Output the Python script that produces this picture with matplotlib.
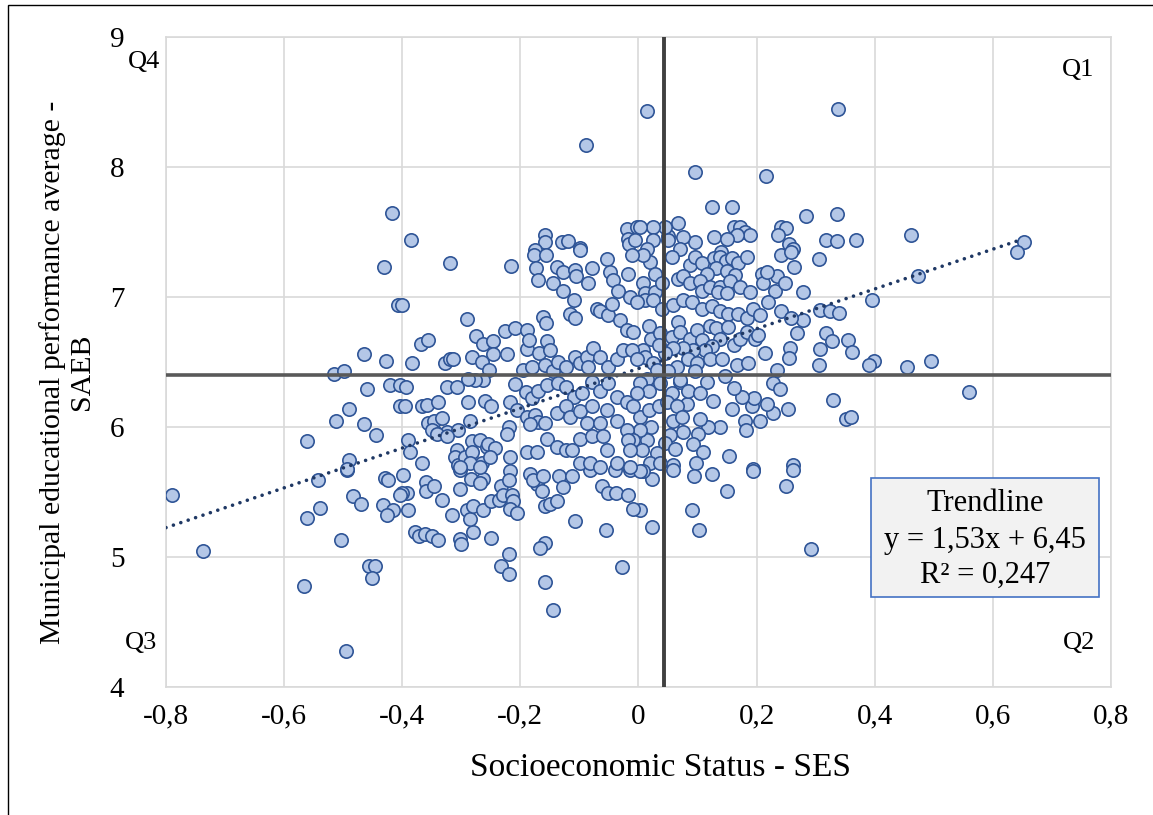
import numpy as np
import matplotlib
matplotlib.use("Agg")
import matplotlib.pyplot as plt
from matplotlib.patches import Rectangle
from matplotlib.ticker import FuncFormatter

plt.rcParams['font.family'] = ['Liberation Serif', 'DejaVu Serif']

# (SES, SAEB) por município
pts_top = [
    (-0.089, 8.17), (-0.385, 7.44), (-0.158, 7.48), (-0.158, 7.42), (-0.130, 7.42), (-0.120, 7.43),
    (-0.099, 7.38), (-0.176, 7.36), (-0.020, 7.52), (-0.002, 7.54), (-0.018, 7.45), (-0.016, 7.41),
    (-0.006, 7.44), (0.014, 8.43), (0.337, 8.45), (0.095, 7.96), (0.216, 7.93), (0.125, 7.69),
    (0.159, 7.69), (0.283, 7.62), (0.336, 7.64), (0.369, 7.44), (0.317, 7.44), (0.336, 7.43),
    (0.242, 7.54), (0.249, 7.53), (0.237, 7.48), (0.254, 7.41), (0.261, 7.37), (0.161, 7.54),
    (0.172, 7.54), (0.180, 7.50), (0.189, 7.48), (0.166, 7.48), (0.128, 7.46), (0.149, 7.45),
    (0.095, 7.42), (0.067, 7.57), (0.075, 7.46), (0.050, 7.47), (0.050, 7.44), (0.045, 7.54),
    (0.024, 7.54), (0.024, 7.44), (0.003, 7.54), (0.014, 7.37), (0.070, 7.37), (0.139, 7.35),
    (0.461, 7.48), (0.652, 7.42), (0.640, 7.35), (0.473, 7.16),
]

pts_right = [
    (0.454, 6.46), (0.495, 6.51), (0.559, 6.27), (0.398, 6.51), (0.391, 6.48),
    (0.306, 7.29), (0.242, 7.32), (0.259, 7.35), (0.263, 7.23), (0.278, 7.04), (0.396, 6.98),
    (0.307, 6.90), (0.324, 6.89), (0.340, 6.88), (0.242, 6.89), (0.279, 6.82), (0.268, 6.72),
    (0.259, 6.84), (0.317, 6.72), (0.327, 6.66), (0.307, 6.60), (0.354, 6.67), (0.362, 6.58),
    (0.257, 6.61), (0.254, 6.53), (0.306, 6.48), (0.234, 6.44), (0.228, 6.34), (0.240, 6.29),
    (0.253, 6.14), (0.228, 6.11), (0.217, 6.18), (0.330, 6.21), (0.352, 6.06), (0.359, 6.08),
    (0.261, 5.71), (0.194, 5.68), (0.154, 5.78), (0.180, 6.05), (0.182, 5.98), (0.205, 6.05),
    (0.158, 6.14), (0.192, 6.16), (0.196, 6.22), (0.176, 6.23), (0.162, 6.30), (0.126, 6.20),
    (0.138, 6.00), (0.118, 6.00), (0.104, 6.06), (0.100, 5.95), (0.093, 5.87), (0.110, 5.81),
    (0.097, 5.72), (0.076, 5.96), (0.059, 6.05), (0.053, 5.94), (0.045, 5.88), (0.062, 5.83),
    (0.058, 5.71), (0.022, 6.00), (0.014, 5.90), (0.031, 5.80), (0.019, 5.72), (0.036, 5.72),
    (0.003, 6.08), (0.003, 5.98), (0.006, 5.82),
]

pts_core_q1 = [
    (0.020, 7.27), (0.028, 7.18), (0.008, 7.32), (0.056, 7.31), (0.087, 7.25), (0.096, 7.31),
    (0.107, 7.26), (0.127, 7.30), (0.138, 7.31), (0.148, 7.28), (0.158, 7.30), (0.169, 7.26),
    (0.184, 7.31), (0.132, 7.22), (0.116, 7.18), (0.149, 7.20), (0.163, 7.17),
    (0.008, 7.11), (0.011, 7.03), (0.028, 7.04), (0.039, 7.11), (0.067, 7.14), (0.076, 7.16),
    (0.087, 7.11), (0.104, 7.12), (0.107, 7.05), (0.121, 7.08), (0.138, 7.08), (0.155, 7.12),
    (0.172, 7.08), (0.189, 7.04), (0.135, 7.04), (0.149, 7.03), (0.209, 7.18), (0.211, 7.11),
    (0.231, 7.05), (0.234, 7.16), (0.248, 7.11), (0.217, 7.19),
    (0.011, 6.98), (0.025, 6.98), (0.039, 6.91), (0.059, 6.94), (0.076, 6.98), (0.090, 6.96),
    (0.107, 6.91), (0.124, 6.93), (0.138, 6.89), (0.152, 6.87), (0.169, 6.87), (0.183, 6.84),
    (0.194, 6.91), (0.206, 6.86), (0.220, 6.96),
    (0.017, 6.78), (0.022, 6.68), (0.008, 6.59), (0.036, 6.72), (0.056, 6.69), (0.067, 6.81),
    (0.070, 6.73), (0.087, 6.68), (0.099, 6.75), (0.107, 6.67), (0.121, 6.78), (0.132, 6.76),
    (0.152, 6.77), (0.161, 6.63), (0.172, 6.68), (0.183, 6.73), (0.197, 6.68), (0.203, 6.71),
    (0.214, 6.57), (0.138, 6.68), (0.124, 6.62), (0.113, 6.59), (0.093, 6.59), (0.076, 6.61),
    (0.059, 6.61), (0.045, 6.57), (0.034, 6.63),
    (0.011, 6.54), (0.025, 6.49), (0.065, 6.46), (0.084, 6.52), (0.099, 6.49), (0.121, 6.52),
    (0.141, 6.52), (0.166, 6.48), (0.186, 6.49), (0.147, 6.39), (0.116, 6.35), (0.096, 6.43),
    (0.070, 6.35), (0.050, 6.43), (0.031, 6.44), (0.014, 6.37),
    (0.003, 6.34), (0.017, 6.28), (0.036, 6.34), (0.056, 6.26), (0.070, 6.36), (0.082, 6.18),
    (0.084, 6.28), (0.104, 6.26), (0.017, 6.13), (0.034, 6.16), (0.048, 6.19), (0.065, 6.16),
    (0.073, 6.08),
]

pts_low = [
    (0.023, 5.60), (0.008, 5.66), (0.059, 5.67), (0.094, 5.62), (0.124, 5.64), (0.150, 5.51),
    (0.194, 5.66), (0.250, 5.55), (0.261, 5.67), (0.091, 5.36), (0.103, 5.21), (0.023, 5.23),
    (0.003, 5.36), (0.292, 5.06),
    (-0.398, 5.63), (-0.392, 5.49), (-0.401, 5.49), (-0.390, 5.36), (-0.359, 5.58), (-0.360, 5.51),
    (-0.347, 5.55), (-0.332, 5.44), (-0.315, 5.32), (-0.378, 5.19), (-0.371, 5.16), (-0.361, 5.18),
    (-0.350, 5.16), (-0.339, 5.13), (-0.302, 5.14), (-0.300, 5.10), (-0.280, 5.19), (-0.250, 5.15),
    (-0.303, 5.67), (-0.302, 5.52), (-0.284, 5.60), (-0.263, 5.60), (-0.268, 5.57), (-0.291, 5.36),
    (-0.286, 5.29), (-0.280, 5.39), (-0.263, 5.36), (-0.249, 5.43), (-0.237, 5.44), (-0.232, 5.55),
    (-0.218, 5.66), (-0.220, 5.59), (-0.229, 5.48), (-0.215, 5.48), (-0.212, 5.43), (-0.218, 5.37),
    (-0.206, 5.34), (-0.220, 5.02), (-0.232, 4.93), (-0.219, 4.87),
    (-0.184, 5.64), (-0.172, 5.56), (-0.164, 5.51), (-0.178, 5.59), (-0.161, 5.62), (-0.134, 5.62),
    (-0.127, 5.54), (-0.113, 5.62), (-0.158, 5.39), (-0.149, 5.41), (-0.138, 5.43), (-0.107, 5.28),
    (-0.158, 5.11), (-0.166, 5.07), (-0.158, 4.81), (-0.145, 4.59),
    (-0.061, 5.55), (-0.051, 5.49), (-0.038, 5.49), (-0.018, 5.48), (-0.009, 5.37), (-0.055, 5.21),
    (-0.028, 4.92), (-0.082, 5.67), (-0.040, 5.67), (-0.014, 5.67), (0.003, 5.66),
    (-0.789, 5.48), (-0.738, 5.05), (-0.543, 5.59), (-0.494, 5.67), (-0.484, 5.47), (-0.470, 5.41),
    (-0.539, 5.38), (-0.562, 5.30), (-0.503, 5.13), (-0.429, 5.61), (-0.424, 5.59), (-0.404, 5.48),
    (-0.433, 5.40), (-0.415, 5.36), (-0.426, 5.32), (-0.457, 4.93), (-0.446, 4.93), (-0.452, 4.84),
    (-0.566, 4.78), (-0.495, 4.28),
]

pts_left = [
    (-0.418, 7.65), (-0.431, 7.23), (-0.407, 6.94), (-0.464, 6.56), (-0.428, 6.51), (-0.516, 6.41),
    (-0.498, 6.43), (-0.459, 6.29), (-0.421, 6.32), (-0.404, 6.32), (-0.490, 6.14), (-0.512, 6.05),
    (-0.465, 6.02), (-0.445, 5.94), (-0.562, 5.89), (-0.490, 5.75), (-0.494, 5.68), (-0.404, 6.16),
    (-0.320, 7.26), (-0.216, 7.24), (-0.177, 7.32), (-0.157, 7.32),
    (-0.174, 7.22), (-0.170, 7.13), (-0.145, 7.11), (-0.128, 7.05), (-0.138, 7.23), (-0.127, 7.19),
    (-0.107, 7.21), (-0.105, 7.16), (-0.085, 7.11), (-0.078, 7.22), (-0.053, 7.29), (-0.048, 7.19),
    (-0.043, 7.13), (-0.034, 7.05), (-0.017, 7.18), (-0.011, 7.32), (-0.099, 7.36),
    (-0.401, 6.94), (-0.290, 6.83), (-0.110, 6.98),
    (-0.162, 6.85), (-0.157, 6.80), (-0.116, 6.87), (-0.107, 6.84), (-0.071, 6.91), (-0.065, 6.89),
    (-0.051, 6.86), (-0.045, 6.95), (-0.031, 6.82), (-0.020, 6.75), (-0.009, 6.73), (-0.014, 7.00),
    (-0.003, 6.96), (-0.368, 6.64), (-0.357, 6.67), (-0.384, 6.49), (-0.328, 6.49), (-0.319, 6.52),
    (-0.314, 6.52),
    (-0.275, 6.70), (-0.263, 6.64), (-0.247, 6.66), (-0.246, 6.56), (-0.223, 6.56), (-0.226, 6.74),
    (-0.209, 6.76), (-0.189, 6.75), (-0.189, 6.60), (-0.185, 6.67), (-0.168, 6.57), (-0.155, 6.66),
    (-0.149, 6.59),
    (-0.282, 6.54), (-0.265, 6.50), (-0.253, 6.44), (-0.263, 6.36), (-0.277, 6.36), (-0.288, 6.37),
    (-0.325, 6.31), (-0.307, 6.31), (-0.394, 6.31),
    (-0.195, 6.44), (-0.181, 6.46), (-0.158, 6.48), (-0.144, 6.43), (-0.136, 6.50), (-0.122, 6.46),
    (-0.107, 6.54), (-0.099, 6.49), (-0.088, 6.54), (-0.085, 6.46), (-0.077, 6.61), (-0.065, 6.54),
    (-0.051, 6.46), (-0.037, 6.52), (-0.026, 6.59), (-0.011, 6.59), (-0.003, 6.52),
]

pts_mid = [
    (-0.395, 6.16), (-0.367, 6.16), (-0.358, 6.17), (-0.339, 6.19), (-0.356, 6.03), (-0.347, 6.05),
    (-0.333, 6.07), (-0.325, 5.96), (-0.345, 5.96), (-0.305, 5.98), (-0.288, 6.19), (-0.260, 6.20),
    (-0.249, 6.16), (-0.285, 6.05), (-0.209, 6.33), (-0.190, 6.27), (-0.181, 6.22), (-0.170, 6.28),
    (-0.155, 6.32), (-0.136, 6.34), (-0.122, 6.31), (-0.110, 6.23), (-0.096, 6.26), (-0.079, 6.35),
    (-0.065, 6.28), (-0.051, 6.34), (-0.037, 6.23), (-0.020, 6.19), (-0.009, 6.16), (-0.003, 6.26),
    (-0.218, 6.19), (-0.220, 6.00), (-0.223, 5.95), (-0.206, 6.13), (-0.189, 6.08), (-0.175, 6.09),
    (-0.170, 6.04), (-0.184, 6.02), (-0.158, 6.03), (-0.138, 6.11), (-0.122, 6.16), (-0.116, 6.08),
    (-0.099, 6.12), (-0.079, 6.16), (-0.088, 6.03), (-0.065, 6.03), (-0.054, 6.13), (-0.037, 6.05),
    (-0.020, 5.98), (-0.009, 5.90), (-0.155, 5.91), (-0.138, 5.85), (-0.122, 5.82), (-0.113, 5.82),
    (-0.099, 5.91), (-0.079, 5.93), (-0.060, 5.93), (-0.054, 5.82), (-0.037, 5.72), (-0.017, 5.90),
    (-0.014, 5.82),
    (-0.390, 5.90), (-0.387, 5.81), (-0.367, 5.72), (-0.350, 5.98), (-0.342, 5.95), (-0.325, 5.93),
    (-0.308, 5.82), (-0.311, 5.77), (-0.305, 5.71), (-0.294, 5.77), (-0.282, 5.89), (-0.282, 5.81),
    (-0.268, 5.90), (-0.265, 5.72), (-0.257, 5.85), (-0.254, 5.87), (-0.243, 5.84), (-0.285, 5.72),
    (-0.302, 5.69), (-0.268, 5.69), (-0.251, 5.77),
    (-0.218, 5.77), (-0.189, 5.81), (-0.172, 5.81), (-0.099, 5.72), (-0.082, 5.72), (-0.065, 5.69),
    (-0.014, 5.69),
]

pts = np.array(pts_top + pts_right + pts_core_q1 + pts_low + pts_left + pts_mid)
ses = pts[:, 0]
saeb = pts[:, 1]

# linha de tendência (Excel)
slope, intercept = 1.53, 6.45
trend_x = np.array([-0.8, 0.65])

# médias dos quadrantes
ses_mean = 0.0437
saeb_mean = 6.40


def fmt_x(v, p):
    if abs(v) < 1e-9:
        return '0'
    return ('%.1f' % v).replace('.', ',')


fig = plt.figure(figsize=(11.53, 8.15), dpi=100)
ax = fig.add_axes([166 / 1153, 1 - 687 / 815, 945 / 1153, 650 / 815])

ax.scatter(ses, saeb, s=92, facecolor='#b4c7e7', edgecolor='#2f5597',
           linewidth=1.2, zorder=3)

ax.plot(trend_x, slope * trend_x + intercept, color='#1f3864', lw=2.6,
        linestyle=(0, (0.01, 2.15)), dash_capstyle='round', zorder=4)

ax.axvline(ses_mean, color='#404040', lw=2.8, zorder=5)
ax.axhline(saeb_mean, color='#595959', lw=2.6, zorder=5)

ax.set_xlim(-0.8, 0.8)
ax.set_ylim(4, 9)
ax.set_xticks(np.arange(-0.8, 0.81, 0.2))
ax.set_yticks(np.arange(4, 10, 1))
ax.xaxis.set_major_formatter(FuncFormatter(fmt_x))
ax.yaxis.set_major_formatter(FuncFormatter(lambda v, p: '%d' % v))
ax.tick_params(length=0, labelsize=21, colors='black')
ax.tick_params(axis='x', pad=12)
ax.tick_params(axis='y', pad=30)
ax.grid(True, color='#d9d9d9', lw=1.2, zorder=0)
ax.set_axisbelow(True)
for sp in ax.spines.values():
    sp.set_color('#d9d9d9')
    sp.set_linewidth(1.2)

# títulos dos eixos
fig.text(660 / 1153, 1 - 768 / 815, 'Socioeconomic Status - SES', fontsize=24,
         ha='center', va='center')
fig.text(67 / 1153, 1 - 372 / 815, 'Municipal educational performance average -\nSAEB',
         fontsize=21.5, rotation=90, ha='center', va='center',
         multialignment='center', linespacing=1.15)

# rótulos dos quadrantes
ax.text(-0.837, 8.81, 'Q4', fontsize=19, ha='center', va='center', clip_on=False)
ax.text(0.744, 8.75, 'Q1', fontsize=19, ha='center', va='center')
ax.text(-0.842, 4.34, 'Q3', fontsize=19, ha='center', va='center', clip_on=False)
ax.text(0.746, 4.34, 'Q2', fontsize=19, ha='center', va='center')

# caixa da equação
ax.add_patch(Rectangle((0.394, 4.692), 0.386, 0.916, facecolor='#f2f2f2',
                       edgecolor='#4472c4', lw=1.2, zorder=6))
ax.text(0.587, 5.415, 'Trendline', fontsize=22, ha='center', va='center', zorder=7)
ax.text(0.587, 5.13, 'y = 1,53x + 6,45', fontsize=22, ha='center', va='center', zorder=7)
ax.text(0.587, 4.86, 'R² = 0,247', fontsize=22, ha='center', va='center', zorder=7)

# moldura externa
fig.add_artist(Rectangle((8 / 1153, -0.01), 1.05, 1.0 - 5 / 815 + 0.01,
                         transform=fig.transFigure, fill=False,
                         edgecolor='black', lw=1.0))

fig.savefig('out.png', dpi=100)
